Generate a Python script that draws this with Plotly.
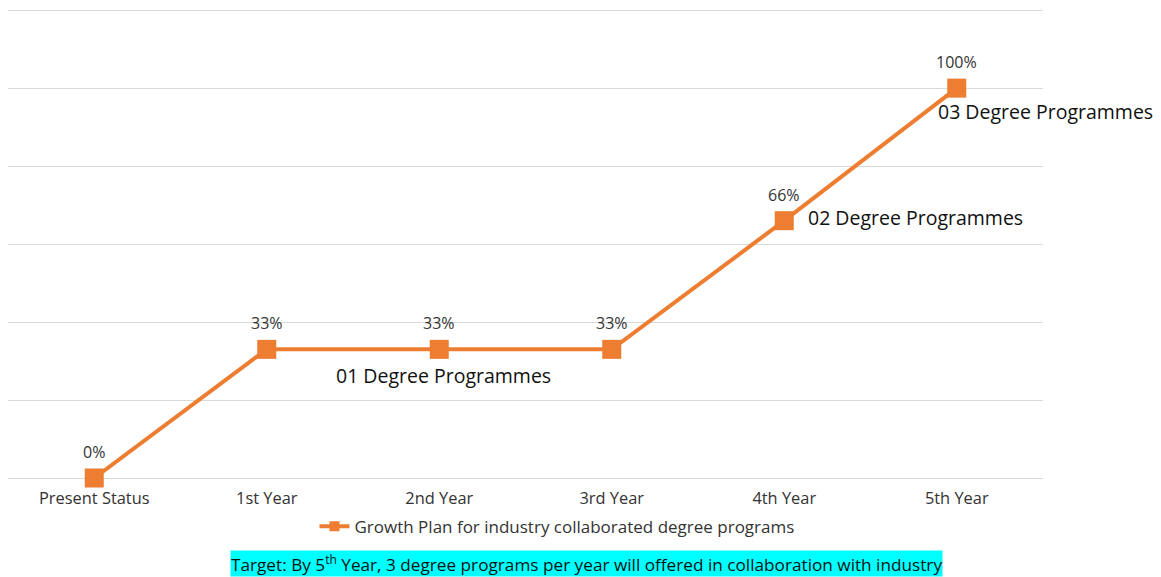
import plotly.graph_objects as go

# Chart data
stages = ["Present Status", "1st Year", "2nd Year", "3rd Year", "4th Year", "5th Year"]
growth_pct = [0, 33, 33, 33, 66, 100]
pct_labels = ["0%", "33%", "33%", "33%", "66%", "100%"]
series_name = "Growth Plan for industry collaborated degree programs"

milestone_stage = ["2nd Year", "4th Year", "5th Year"]
milestone_value = [33, 66, 100]
milestone_text = ["01 Degree Programmes", "02 Degree Programmes", "03 Degree Programmes"]

ORANGE = "#ED7D31"
FONT = "'Open Sans', sans-serif"

fig = go.Figure()
fig.add_trace(go.Scatter(
    x=stages,
    y=growth_pct,
    mode="lines+markers",
    name=series_name,
    showlegend=False,
    line=dict(color=ORANGE, width=4),
    marker=dict(symbol="square", size=19, color=ORANGE),
    cliponaxis=False,
))

# Legend entry with a smaller marker
fig.add_trace(go.Scatter(
    x=[None], y=[None],
    mode="lines+markers",
    name=series_name,
    line=dict(color=ORANGE, width=4),
    marker=dict(symbol="square", size=10, color=ORANGE),
))

# Percentage labels above each point
for s, v, t in zip(stages, growth_pct, pct_labels):
    fig.add_annotation(
        x=s, y=v, text=t, showarrow=False,
        xanchor="center", yanchor="middle", yshift=26,
        font=dict(family=FONT, size=16, color="#333333"),
    )

# Milestone annotations
offsets = [
    dict(xanchor="center", yanchor="middle", xshift=4, yshift=-26),
    dict(xanchor="left", yanchor="middle", xshift=22, yshift=3),
    dict(xanchor="left", yanchor="middle", xshift=-21, yshift=-23),
]
for s, v, t, o in zip(milestone_stage, milestone_value, milestone_text, offsets):
    fig.add_annotation(
        x=s, y=v, text=t, showarrow=False,
        font=dict(family=FONT, size=19.5, color="#111111"),
        **o,
    )

# Target note below the legend
fig.add_annotation(
    xref="paper", yref="paper",
    x=(586 - 8) / 1035, y=-0.183,
    xanchor="center", yanchor="middle",
    text="Target: By 5<sup>th</sup> Year, 3 degree programs per year will offered in collaboration with industry",
    showarrow=False,
    bgcolor="#00FFFF",
    borderpad=0,
    font=dict(family=FONT, size=17.2, color="#111111"),
)

fig.update_layout(
    width=1161, height=577,
    margin=dict(l=8, r=118, t=9, b=99),
    paper_bgcolor="white",
    plot_bgcolor="white",
    showlegend=True,
    legend=dict(
        orientation="h",
        x=(557 - 8) / 1035, xanchor="center",
        y=-0.104, yanchor="middle",
        font=dict(family=FONT, size=17, color="#333333"),
        itemwidth=30,
    ),
    xaxis=dict(
        type="category",
        range=[-0.5, 5.5],
        showgrid=False,
        showline=False,
        zeroline=False,
        ticks="",
        ticklabelstandoff=9,
        tickfont=dict(family=FONT, size=16.4, color="#333333"),
    ),
    yaxis=dict(
        range=[0, 120.3],
        dtick=20,
        showgrid=True,
        gridcolor="#D9D9D9",
        gridwidth=1,
        zeroline=True,
        zerolinecolor="#D9D9D9",
        zerolinewidth=1,
        showticklabels=False,
        ticks="",
    ),
)

fig.write_html("out.html")
